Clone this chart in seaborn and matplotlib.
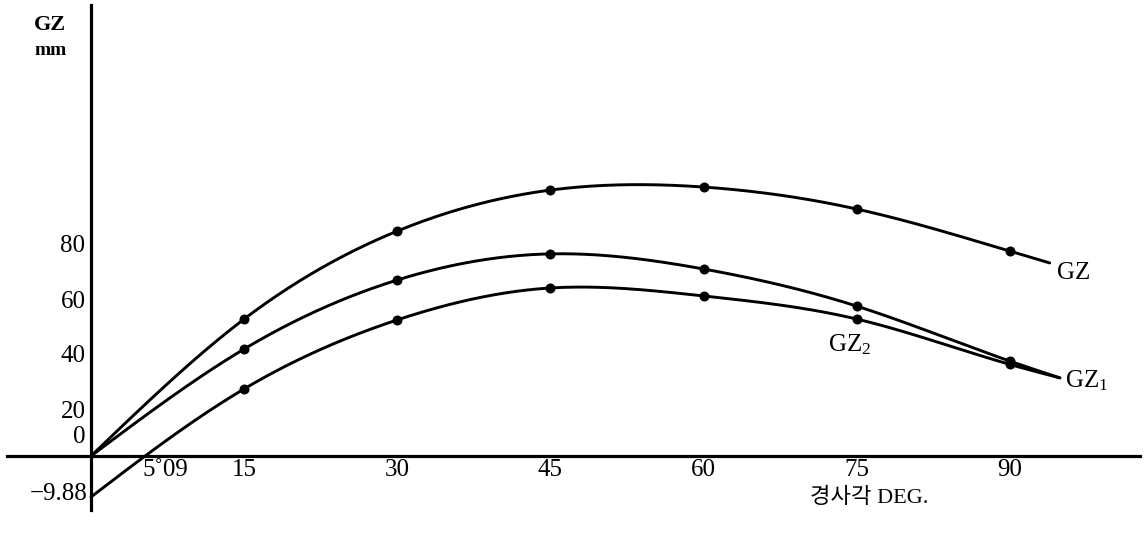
import numpy as np
import pandas as pd
import matplotlib
matplotlib.use("Agg")
import matplotlib.pyplot as plt
import matplotlib.transforms as mtransforms
import seaborn as sns

# ---- data (y in axis units of the drawn tick scale) ----
angles = [15, 30, 45, 60, 75, 90]
gz = [49.8, 81.8, 96.7, 97.8, 89.8, 74.5]
gz1 = [38.9, 64.0, 73.5, 68.0, 54.5, 34.5]
gz2 = [24.4, 49.5, 61.1, 58.2, 49.8, 33.3]

gz_start_x, gz_start_y = 0.0, 0.0
gz_end_x, gz_end_y = 93.9, 70.2
gz1_start_x, gz1_start_y = 0.0, 0.0
gz1_end_x, gz1_end_y = 94.9, 28.4
gz2_start_x, gz2_start_y = 0.0, -14.9      # drawn intercept, labelled -9.88
gz2_cross_x, gz2_cross_y = 5.3, 0.0        # zero crossing, labelled 5.09
gz2_end_x, gz2_end_y = 94.9, 28.4

x_tick_vals = [15, 30, 45, 60, 75, 90]
x_tick_labels = ["15", "30", "45", "60", "75", "90"]
y_tick_vals = [20, 40, 60, 80]
y_tick_labels = ["20", "40", "60", "80"]


def natural_spline(xs, ys, n=600):
    xs = np.asarray(xs, float)
    ys = np.asarray(ys, float)
    k = len(xs)
    h = np.diff(xs)
    A = np.zeros((k, k))
    b = np.zeros(k)
    A[0, 0] = 1
    A[-1, -1] = 1
    for i in range(1, k - 1):
        A[i, i - 1] = h[i - 1]
        A[i, i] = 2 * (h[i - 1] + h[i])
        A[i, i + 1] = h[i]
        b[i] = 6 * ((ys[i + 1] - ys[i]) / h[i] - (ys[i] - ys[i - 1]) / h[i - 1])
    M = np.linalg.solve(A, b)
    xx = np.linspace(xs[0], xs[-1], n)
    yy = np.empty_like(xx)
    for j, x in enumerate(xx):
        i = min(np.searchsorted(xs, x, side="right") - 1, k - 2)
        i = max(i, 0)
        t1 = xs[i + 1] - x
        t0 = x - xs[i]
        yy[j] = (M[i] * t1 ** 3 / (6 * h[i]) + M[i + 1] * t0 ** 3 / (6 * h[i])
                 + (ys[i] / h[i] - M[i] * h[i] / 6) * t1
                 + (ys[i + 1] / h[i] - M[i + 1] * h[i] / 6) * t0)
    return xx, yy


sns.set_theme(style="white")
plt.rcParams["font.family"] = ["Liberation Serif", "Noto Sans CJK KR", "DejaVu Sans"]
plt.rcParams["mathtext.fontset"] = "custom"
plt.rcParams["mathtext.rm"] = "Liberation Serif"
plt.rcParams["mathtext.it"] = "Liberation Serif"
plt.rcParams["text.color"] = "black"

fig = plt.figure(figsize=(11.46, 5.39), dpi=100)
ax = fig.add_axes([0, 0, 1, 1])
ax.set_facecolor("white")

ppx, ppy = 10.21, 2.75
ax.set_xlim(-91 / ppx, (1146 - 91) / ppx)
ax.set_ylim(-(539 - 456) / ppy, 456 / ppy)

series = [
    ([gz_start_x] + angles + [gz_end_x], [gz_start_y] + gz + [gz_end_y]),
    ([gz1_start_x] + angles + [gz1_end_x], [gz1_start_y] + gz1 + [gz1_end_y]),
    ([gz2_start_x, gz2_cross_x] + angles + [gz2_end_x],
     [gz2_start_y, gz2_cross_y] + gz2 + [gz2_end_y]),
]
for xs, ys in series:
    xx, yy = natural_spline(xs, ys)
    ax.plot(xx, yy, color="black", lw=2.1, solid_capstyle="round", zorder=3)

pts = pd.DataFrame({
    "angle": angles * 3,
    "value": gz + gz1 + gz2,
})
sns.scatterplot(data=pts, x="angle", y="value", ax=ax, color="black",
                s=52, edgecolor="black", linewidth=0, zorder=4, legend=False)

# axes through origin
for s in ["top", "right"]:
    ax.spines[s].set_visible(False)
ax.spines["bottom"].set_position(("data", 0))
ax.spines["left"].set_position(("data", 0))
ax.spines["bottom"].set_bounds(-8.2, 102.7)
ax.spines["left"].set_bounds(-19.6, 164)
for s in ["bottom", "left"]:
    ax.spines[s].set_linewidth(2.3)
    ax.spines[s].set_color("black")
    ax.spines[s].set_zorder(2)

ax.set_xticks(x_tick_vals)
ax.set_xticklabels(x_tick_labels)
ax.set_yticks(y_tick_vals)
ax.set_yticklabels(y_tick_labels)
ax.tick_params(axis="both", length=0, labelsize=18, colors="black")
ax.tick_params(axis="x", pad=2)
ax.tick_params(axis="y", pad=4)
off = mtransforms.ScaledTranslation(0, -8 / 100, fig.dpi_scale_trans)
for lab in ax.get_yticklabels():
    lab.set_transform(lab.get_transform() + off)
ax.set_xlabel("")
ax.set_ylabel("")

fs = 18
ax.text(-0.55, 6.9, "0", ha="right", va="center", fontsize=fs, color="black")
ax.text(-0.35, -13.8, "−9.88", ha="right", va="center", fontsize=fs, color="black")
ax.text(7.25, -5.1, "5˚09", ha="center", va="center", fontsize=fs, color="black")
ax.text(70.4, -15.3, "경사각 DEG.", ha="left", va="center", fontsize=16, color="black")
ax.text(-4.0, 156.7, "GZ", ha="center", va="center", fontsize=16, fontweight="bold", color="black")
ax.text(-4.0, 147.3, "mm", ha="center", va="center", fontsize=14, fontweight="bold", color="black")
ax.text(94.6, 66.5, "GZ", ha="left", va="center", fontsize=fs, color="black")
ax.text(95.4, 27.3, "GZ$_1$", ha="left", va="center", fontsize=fs, color="black")
ax.text(72.2, 40.4, "GZ$_2$", ha="left", va="center", fontsize=fs, color="black")

fig.savefig("out.png", dpi=100, facecolor="white")
